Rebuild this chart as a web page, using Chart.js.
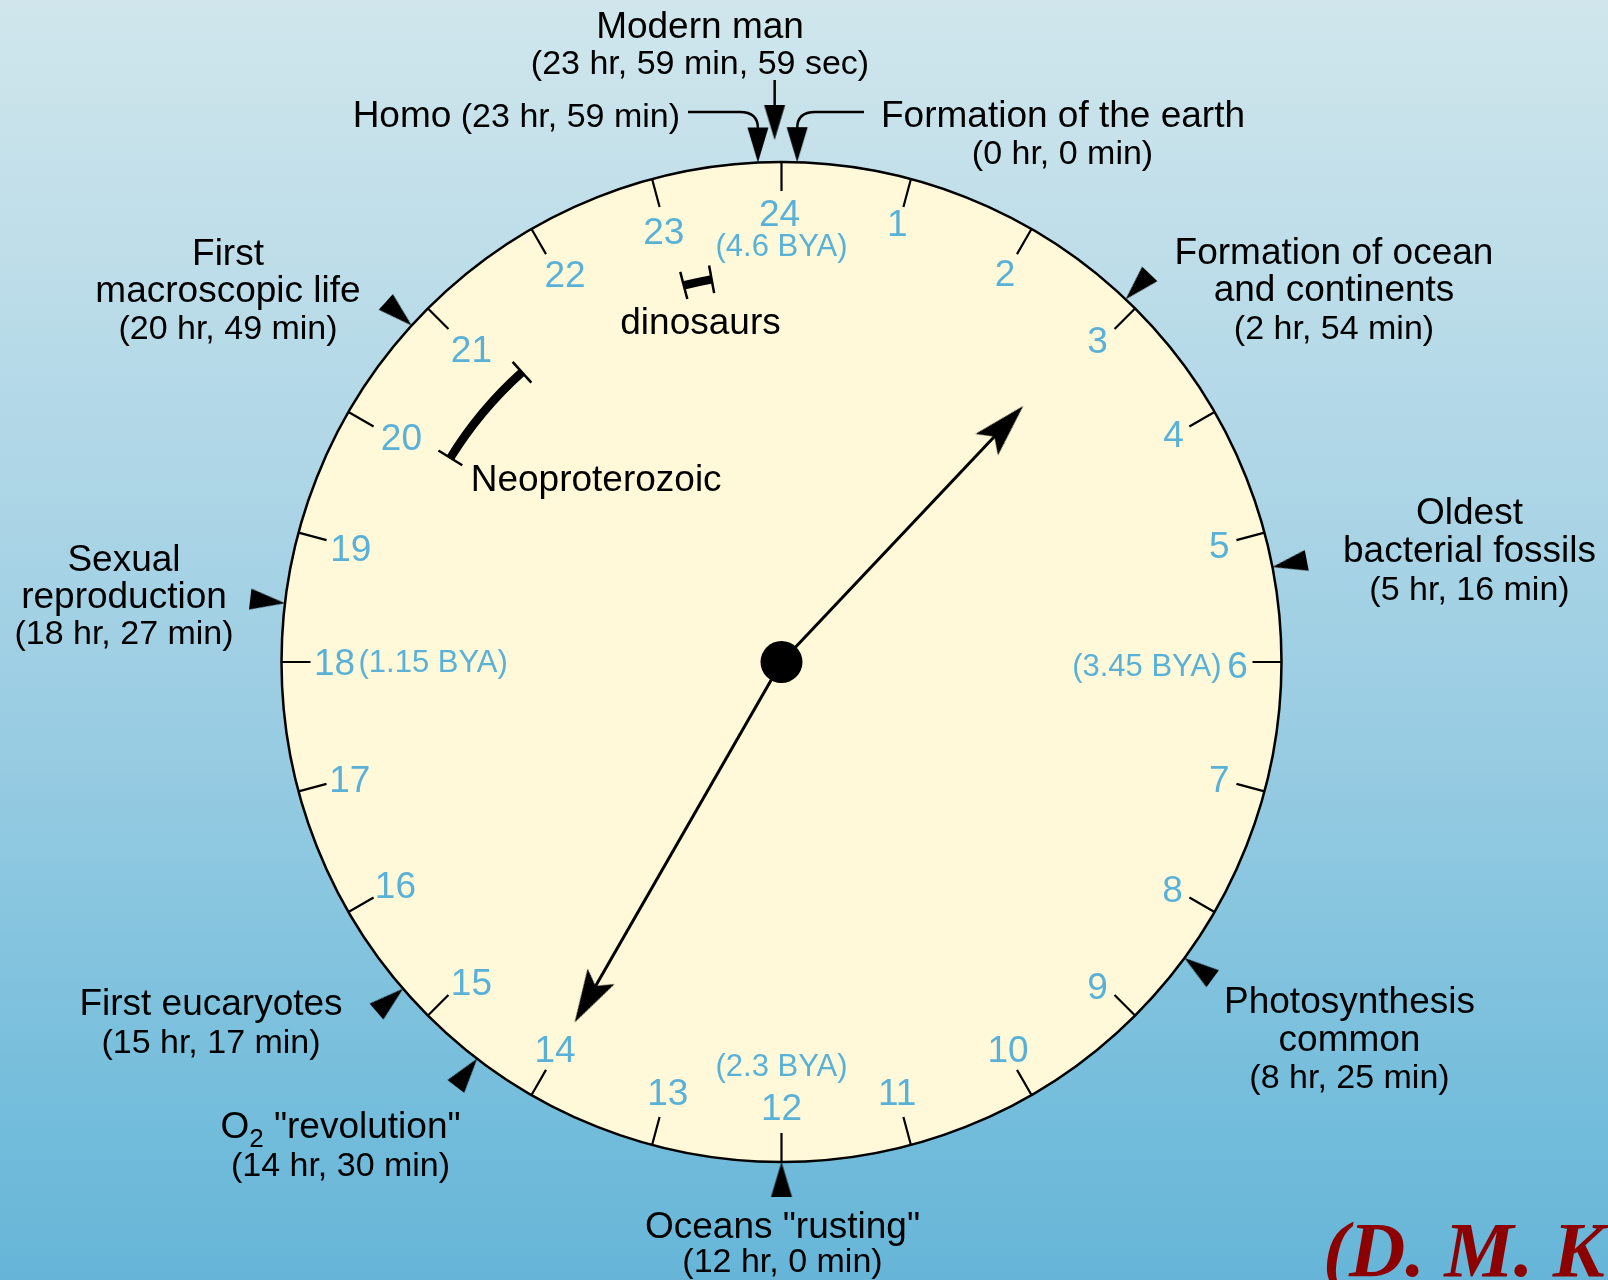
<!DOCTYPE html>
<html>
<head>
<meta charset="utf-8">
<title>History of the earth as a 24 hour clock</title>
<script src="https://cdn.jsdelivr.net/npm/chart.js@4.4.1/dist/chart.umd.min.js"></script>
<style>
  html, body { margin: 0; padding: 0; overflow: hidden; background: #9ccde2; }
  canvas { display: block; }
</style>
</head>
<body>
<canvas id="clock" width="1608" height="1280"></canvas>
<script>
// ---- data (hours on a 24 hour clock, 24 = formation of the earth) ----
const HOURS = [1, 2, 3, 4, 5, 6, 7, 8, 9, 10, 11, 12, 13, 14, 15, 16, 17, 18, 19, 20, 21, 22, 23, 24];
const HOUR_LABELS = HOURS.map(h => String(h));

const BYA_HOURS = [24, 6, 12, 18];
const BYA_LABELS = ['(4.6 BYA)', '(3.45 BYA)', '(2.3 BYA)', '(1.15 BYA)'];

const EVENT_NAMES = [
  'Formation of the earth',
  'Homo',
  'Modern man',
  'Formation of ocean\nand continents',
  'Oldest\nbacterial fossils',
  'Photosynthesis\ncommon',
  'Oceans "rusting"',
  'O2 "revolution"',
  'First eucaryotes',
  'Sexual\nreproduction',
  'First\nmacroscopic life'
];
const EVENT_TIMES = [
  '(0 hr, 0 min)', '(23 hr, 59 min)', '(23 hr, 59 min, 59 sec)', '(2 hr, 54 min)',
  '(5 hr, 16 min)', '(8 hr, 25 min)', '(12 hr, 0 min)', '(14 hr, 30 min)',
  '(15 hr, 17 min)', '(18 hr, 27 min)', '(20 hr, 49 min)'
];
// where the arrow for each event sits on the dial (top three spread apart as drawn)
const MARKER_HOURS = [0.12, 23.82, 23.95, 2.9, 5.27, 8.42, 12, 14.5, 15.28, 18.45, 20.82];

const HAND_HOURS = [2.89, 13.99];
const HAND_REACH = [0.704, 0.831]; // fraction of the dial radius

const SPAN_NAMES = ['Neoproterozoic', 'dinosaurs'];
const SPAN_START = [20.11, 23.03];
const SPAN_END = [21.21, 23.31];

// ---- layout / style ----
const R = 500;             // dial radius in chart units (1 unit = 1 px)
const CX = 781.5, CY = 662; // dial centre on the canvas
const SANS = '"Liberation Sans", Arial, Helvetica, sans-serif';
const BLUE = '#5ab1d8';
const FACE = '#fff9d9';
const NAME_FONT = '37px ' + SANS;
const TIME_FONT = '34px ' + SANS;

// small hand-placement nudges of the hour numbers, [dx, dy] in px (1..24)
const HOUR_NUDGE = [
  [0, -5], [0, 0], [0, -4], [5, -3], [6, 0], [9, 5], [6, 3], [4, 5], [0, 10], [3, 2], [0, 0], [0, 0],
  [2, 0], [-3, 2], [6, 6], [1, 1], [0, 3], [0, 2], [1, 3], [7, 0], [6, 5], [7, 1], [-2, 3], [-2, 0]
];

// label anchors as screen offsets from the dial centre
const EVENT_LAYOUT = [
  { dx: 99.5, dy: -535, align: 'left', timeDx: 281, timeDy: -498 },
  { dx: -101.5, dy: -535, align: 'right', inline: true },
  { dx: -81.5, dy: -624, align: 'center', lh: 36 },
  { dx: 552.5, dy: -398.5, align: 'center', lh: 37.5 },
  { dx: 688, dy: -138, align: 'center', lh: 38 },
  { dx: 568, dy: 351, align: 'center', lh: 37.5 },
  { dx: 1, dy: 576, align: 'center', lh: 34 },
  { dx: -441, dy: 476, align: 'center', lh: 38 },
  { dx: -570.5, dy: 353, align: 'center', lh: 38 },
  { dx: -657.5, dy: -91, align: 'center', lh: 36.5 },
  { dx: -553.5, dy: -397, align: 'center', lh: 37 }
];
const MARKER_LIFT = [0, 0, 22, 0, 0, 0, 0, 0, 0, 0, 0];
const BYA_LAYOUT = [
  { r: 416, align: 'center' },
  { r: 440, align: 'right' },
  { r: 404, align: 'center' },
  { r: 423, align: 'left' }
];
const SPAN_LABELS = [
  { dx: -310.8, dy: -171, align: 'left' },
  { dx: -81, dy: -328, align: 'center' }
];

function polar(h, r) {
  const a = h / 24 * 2 * Math.PI;
  return { x: r * Math.sin(a), y: r * Math.cos(a) };
}

function makeTriangle(len, base) {
  const s = Math.ceil(len * 2 + 4);
  const cv = document.createElement('canvas');
  cv.width = cv.height = s;
  const c = cv.getContext('2d');
  const m = s / 2;
  c.fillStyle = '#000';
  c.beginPath();
  c.moveTo(m, m);
  c.lineTo(m + base / 2, m + len);
  c.lineTo(m - base / 2, m + len);
  c.closePath();
  c.fill();
  return cv;
}

function makeArrowHead(len, half, notch) {
  const s = Math.ceil(len * 2 + 4);
  const cv = document.createElement('canvas');
  cv.width = cv.height = s;
  const c = cv.getContext('2d');
  const m = s / 2;
  c.fillStyle = '#000';
  c.beginPath();
  c.moveTo(m, m);
  c.lineTo(m + half, m + len);
  c.lineTo(m, m + notch);
  c.lineTo(m - half, m + len);
  c.closePath();
  c.fill();
  return cv;
}

const markerImg = makeTriangle(35, 21);
const arrowImg = makeArrowHead(53, 15.5, 42);

// tick marks: outer + inner point, then a gap
const tickData = [];
HOURS.forEach(h => {
  tickData.push(polar(h, R), polar(h, R - 29), { x: NaN, y: NaN });
});

const markerData = MARKER_HOURS.map((h, i) => polar(h, R + MARKER_LIFT[i]));
const markerRot = MARKER_HOURS.map(h => {
  const deg = h * 15 % 360;
  return (deg < 5 || deg > 355) ? 180 : deg + 180;
});

const handTips = HAND_HOURS.map((h, i) => polar(h, HAND_REACH[i] * R));
const handDatasets = HAND_HOURS.map((h, i) => ({
  label: 'hand ' + (i + 1),
  data: [{ x: 0, y: 0 }, polar(h, HAND_REACH[i] * R - 38)],
  showLine: true,
  borderColor: '#000',
  borderWidth: 3,
  pointRadius: 0,
  order: 3
}));

function toPx(chart, p) {
  return { x: chart.scales.x.getPixelForValue(p.x), y: chart.scales.y.getPixelForValue(p.y) };
}
function offPx(chart, dx, dy) {
  return toPx(chart, { x: dx, y: -dy });
}
function unitPx(chart, r) {
  return chart.scales.x.getPixelForValue(r) - chart.scales.x.getPixelForValue(0);
}

function drawO2(ctx, rest, cx, y) {
  const sub = '26px ' + SANS;
  ctx.save();
  ctx.font = NAME_FONT;
  const wO = ctx.measureText('O').width;
  const wR = ctx.measureText(rest).width;
  ctx.font = sub;
  const w2 = ctx.measureText('2').width;
  let x = cx - (wO + w2 + wR) / 2;
  ctx.textAlign = 'left';
  ctx.font = NAME_FONT;
  ctx.fillText('O', x, y);
  x += wO;
  ctx.font = sub;
  ctx.fillText('2', x, y + 9);
  x += w2;
  ctx.font = NAME_FONT;
  ctx.fillText(rest, x, y);
  ctx.restore();
}

const clockPlugin = {
  id: 'clockFace',
  beforeDraw(chart) {
    const { ctx, width, height } = chart;
    const g = ctx.createLinearGradient(0, 0, 0, height);
    g.addColorStop(0, 'rgb(208,230,236)');
    g.addColorStop(0.35, 'rgb(176,215,231)');
    g.addColorStop(0.6, 'rgb(150,203,226)');
    g.addColorStop(0.85, 'rgb(118,190,220)');
    g.addColorStop(1, 'rgb(102,181,216)');
    ctx.save();
    ctx.fillStyle = g;
    ctx.fillRect(0, 0, width, height);
    ctx.restore();
  },
  beforeDatasetsDraw(chart) {
    const ctx = chart.ctx;
    const c = toPx(chart, { x: 0, y: 0 });
    ctx.save();
    ctx.beginPath();
    ctx.arc(c.x, c.y, unitPx(chart, R), 0, Math.PI * 2);
    ctx.fillStyle = FACE;
    ctx.fill();
    ctx.lineWidth = 2.5;
    ctx.strokeStyle = '#000';
    ctx.stroke();
    ctx.restore();
  },
  afterDatasetsDraw(chart) {
    const ctx = chart.ctx;
    const c = toPx(chart, { x: 0, y: 0 });
    ctx.save();

    // time spans (Neoproterozoic, dinosaurs)
    const spanR = unitPx(chart, 389);
    SPAN_NAMES.forEach((name, i) => {
      const a1 = (SPAN_START[i] * 15 - 90) * Math.PI / 180;
      const a2 = (SPAN_END[i] * 15 - 90) * Math.PI / 180;
      ctx.beginPath();
      ctx.arc(c.x, c.y, spanR, a1, a2);
      ctx.lineWidth = 8.5;
      ctx.strokeStyle = '#000';
      ctx.stroke();
      [SPAN_START[i], SPAN_END[i]].forEach(h => {
        const p1 = toPx(chart, polar(h, 389 - 14));
        const p2 = toPx(chart, polar(h, 389 + 14));
        ctx.beginPath();
        ctx.moveTo(p1.x, p1.y);
        ctx.lineTo(p2.x, p2.y);
        ctx.lineWidth = 2.5;
        ctx.stroke();
      });
      const L = SPAN_LABELS[i];
      const p = offPx(chart, L.dx, L.dy);
      ctx.font = NAME_FONT;
      ctx.fillStyle = '#000';
      ctx.textAlign = L.align;
      ctx.textBaseline = 'alphabetic';
      ctx.fillText(name, p.x, p.y);
    });

    // hour numbers
    ctx.fillStyle = BLUE;
    ctx.font = '37px ' + SANS;
    ctx.textAlign = 'center';
    ctx.textBaseline = 'middle';
    HOURS.forEach((h, i) => {
      const p = toPx(chart, polar(h, 447));
      ctx.fillText(HOUR_LABELS[i], p.x + HOUR_NUDGE[i][0], p.y + 1 + HOUR_NUDGE[i][1]);
    });
    ctx.font = '31px ' + SANS;
    BYA_HOURS.forEach((h, i) => {
      const p = toPx(chart, polar(h, BYA_LAYOUT[i].r));
      ctx.textAlign = BYA_LAYOUT[i].align;
      ctx.fillText(BYA_LABELS[i], p.x, p.y + (h === 6 ? 5 : 1));
    });

    // event labels
    ctx.fillStyle = '#000';
    ctx.textBaseline = 'alphabetic';
    EVENT_NAMES.forEach((name, i) => {
      const L = EVENT_LAYOUT[i];
      ctx.textAlign = L.align;
      const p = offPx(chart, L.dx, L.dy);
      if (L.inline) {
        ctx.font = TIME_FONT;
        const wt = ctx.measureText(' ' + EVENT_TIMES[i]).width;
        ctx.fillText(' ' + EVENT_TIMES[i], p.x, p.y);
        ctx.font = NAME_FONT;
        ctx.fillText(name, p.x - wt, p.y);
        return;
      }
      const lines = name.split('\n');
      ctx.font = NAME_FONT;
      lines.forEach((line, k) => {
        const y = p.y + k * (L.lh || 37);
        if (line.startsWith('O2')) {
          drawO2(ctx, line.slice(2), p.x, y);
        } else {
          ctx.fillText(line, p.x, y);
        }
      });
      ctx.font = TIME_FONT;
      if (L.timeDx !== undefined) {
        const q = offPx(chart, L.timeDx, L.timeDy);
        ctx.textAlign = 'center';
        ctx.fillText(EVENT_TIMES[i], q.x, q.y);
      } else {
        ctx.fillText(EVENT_TIMES[i], p.x, p.y + lines.length * (L.lh || 37));
      }
    });

    // leader lines for the three arrows at the top
    ctx.strokeStyle = '#000';
    ctx.lineWidth = 2.5;
    const homo = toPx(chart, markerData[1]);
    const earth = toPx(chart, markerData[0]);
    const man = toPx(chart, markerData[2]);
    const homoL = EVENT_LAYOUT[1];
    const earthL = EVENT_LAYOUT[0];
    const lineY = offPx(chart, 0, homoL.dy - 15).y;
    const homoStart = offPx(chart, homoL.dx, 0).x + 8;
    ctx.beginPath();
    ctx.moveTo(homoStart, lineY);
    ctx.lineTo(homo.x - 18, lineY);
    ctx.quadraticCurveTo(homo.x, lineY, homo.x, homo.y - 34);
    ctx.stroke();
    const earthStart = offPx(chart, earthL.dx, 0).x - 17;
    ctx.beginPath();
    ctx.moveTo(earthStart, lineY);
    ctx.lineTo(earth.x + 18, lineY);
    ctx.quadraticCurveTo(earth.x, lineY, earth.x, earth.y - 34);
    ctx.stroke();
    const manTop = offPx(chart, 0, EVENT_LAYOUT[2].dy + 42).y;
    ctx.beginPath();
    ctx.moveTo(man.x, manTop);
    ctx.lineTo(man.x, man.y - 34);
    ctx.stroke();

    // credit, cut off by the right edge
    ctx.font = 'italic bold 78px "Liberation Serif", "Times New Roman", serif';
    ctx.fillStyle = '#8c0000';
    ctx.textAlign = 'left';
    const cr = offPx(chart, 541.5, 614);
    ctx.fillText('(D. M. K', cr.x, cr.y);
    ctx.restore();
  }
};

const chart = new Chart(document.getElementById('clock').getContext('2d'), {
  type: 'scatter',
  data: {
    datasets: [
      {
        label: 'center',
        data: [{ x: 0, y: 0 }],
        pointRadius: 21,
        pointBackgroundColor: '#000',
        pointBorderWidth: 0,
        order: 0
      },
      {
        label: 'hand tips',
        data: handTips,
        pointStyle: arrowImg,
        pointRotation: HAND_HOURS.map(h => h * 15),
        pointRadius: 10,
        order: 1
      },
      {
        label: 'events',
        data: markerData,
        pointStyle: markerImg,
        pointRotation: markerRot,
        pointRadius: 10,
        order: 2
      },
      ...handDatasets,
      {
        label: 'hour ticks',
        data: tickData,
        showLine: true,
        spanGaps: false,
        borderColor: '#000',
        borderWidth: 2.2,
        pointRadius: 0,
        order: 4
      }
    ]
  },
  options: {
    responsive: false,
    devicePixelRatio: 1,
    animation: false,
    events: [],
    layout: { padding: 0, autoPadding: false },
    plugins: { legend: { display: false }, tooltip: { enabled: false } },
    scales: {
      x: { type: 'linear', min: -CX, max: 1608 - CX, display: false },
      y: { type: 'linear', min: -(1280 - CY), max: CY, display: false }
    }
  },
  plugins: [clockPlugin]
});
</script>
</body>
</html>
